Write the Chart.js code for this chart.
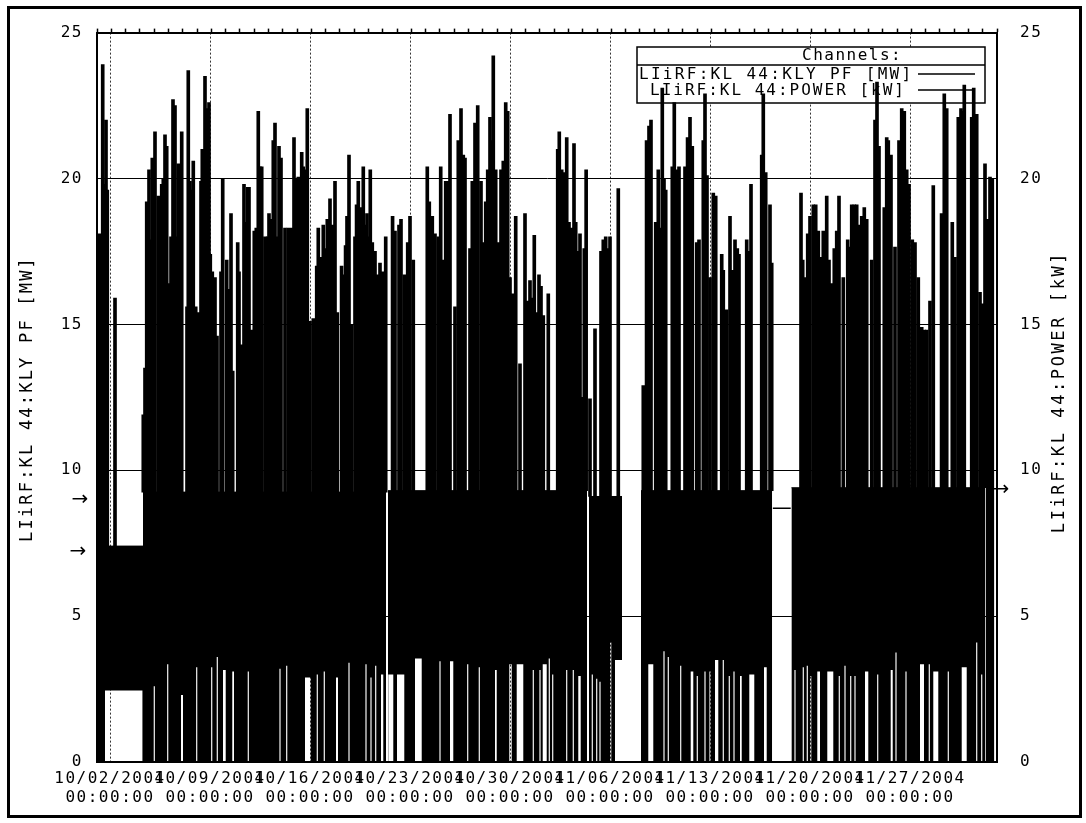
<!DOCTYPE html>
<html>
<head>
<meta charset="utf-8">
<script src="https://cdn.jsdelivr.net/npm/chart.js@4.4.1/dist/chart.umd.min.js"></script>
<style>
html, body { margin: 0; padding: 0; background: #fff; }
#wrap { position: absolute; left: 0; top: 0; width: 1086px; height: 823px; }
#frame { position: absolute; left: 7px; top: 6px; width: 1069px; height: 806px; border: 3px solid #000; pointer-events: none; }
</style>
</head>
<body>
<div id="wrap"><canvas id="chart1"></canvas></div>
<div id="frame"></div>
<script>
// x values are days since 10/02/2004 00:00:00
const xTickDays = [0, 7, 14, 21, 28, 35, 42, 49, 56];
const xTickDates = ["10/02/2004", "10/09/2004", "10/16/2004", "10/23/2004", "10/30/2004",
  "11/06/2004", "11/13/2004", "11/20/2004", "11/27/2004"];
const xTickTimes = ["00:00:00", "00:00:00", "00:00:00", "00:00:00", "00:00:00",
  "00:00:00", "00:00:00", "00:00:00", "00:00:00"];
const channelNames = ["LIiRF:KL 44:KLY PF [MW]", "LIiRF:KL 44:POWER [kW]"];

// runs of the klystron: start day, end day, level of the dense band
const runStart = [-0.91, 2.31, 19.46, 33.53, 37.17, 47.7];
const runEnd = [2.31, 19.32, 33.39, 35.84, 46.35, 61.25];
const runTop = [7.4, 9.25, 9.3, 9.1, 9.3, 9.4];

// stretches where the signal never dropped to zero (lowest level reached)
const noDipFrom = [-0.35,
  3.06, 4.00, 4.97, 6.03, 7.08, 7.47, 7.91, 8.56, 9.64, 11.86, 12.33, 13.65, 14.47, 14.96, 15.82, 16.69, 17.88, 18.23, 18.56, 18.97,
  19.48, 20.09, 21.35, 23.06, 23.80, 25.00, 25.81, 26.95, 27.95, 28.47, 29.59, 30.06, 30.29, 30.71, 30.95, 31.93, 32.39, 32.78,
  33.72, 34.03, 34.26, 35.01, 35.35,
  37.68, 38.74, 39.04, 39.91, 40.65, 41.07, 41.61, 41.96, 42.35, 42.89, 43.31, 43.64, 44.10, 44.75, 45.78,
  47.91, 48.49, 48.77, 49.01, 49.51, 50.21, 51.01, 51.41, 51.81, 52.11, 52.85, 53.70, 54.65, 54.98, 55.68, 56.70, 57.31, 57.63, 58.64, 59.62, 60.63, 60.98];
const noDipTo = [2.27,
  3.14, 4.08, 5.11, 6.11, 7.16, 7.55, 8.10, 8.68, 9.72, 11.94, 12.41, 14.05, 14.55, 15.04, 15.96, 16.77, 17.96, 18.31, 18.64, 19.13,
  19.83, 20.60, 21.82, 23.14, 24.03, 25.08, 25.89, 27.07, 28.12, 28.93, 29.67, 30.14, 30.57, 30.79, 31.03, 32.01, 32.47, 32.95,
  33.80, 34.11, 34.34, 35.09, 35.84,
  38.03, 38.82, 39.12, 39.99, 40.83, 41.15, 41.69, 42.04, 42.58, 42.97, 43.39, 43.72, 44.22, 45.10, 45.97,
  47.99, 48.57, 48.85, 49.09, 49.70, 50.63, 51.09, 51.49, 51.89, 52.19, 53.08, 53.78, 54.79, 55.06, 55.76, 56.98, 57.39, 57.98, 58.72, 59.97, 60.71, 61.06];
const noDipLevel = [2.45,
  2.6, 3.35, 2.3, 3.25, 3.25, 3.6, 3.15, 3.1, 3.1, 3.2, 3.3, 2.9, 3.0, 3.1, 2.9, 3.4, 3.35, 2.9, 3.3, 3.0,
  3.0, 3.0, 3.55, 3.45, 3.45, 3.35, 3.25, 3.15, 3.35, 3.35, 3.15, 3.15, 3.35, 3.55, 3.0, 3.15, 3.15, 2.95,
  3.0, 2.85, 2.75, 4.1, 3.5,
  3.35, 3.8, 3.6, 3.3, 3.1, 2.95, 3.1, 3.1, 3.5, 3.5, 2.95, 3.1, 2.95, 3.0, 3.25,
  3.15, 3.25, 3.3, 2.95, 3.1, 3.1, 2.95, 3.3, 2.95, 2.95, 3.1, 3.0, 3.15, 3.75, 3.1, 3.35, 3.35, 3.1, 3.1, 3.25, 4.1, 3.0];

// peak spikes of KLY PF [MW]
const spikeDay = [
  -0.75, -0.51, -0.42, -0.28, -0.19, 0.35, 2.33, 2.45, 2.57, 2.73, 2.87, 2.96, 3.06, 3.15, 3.38, 3.62, 3.73, 3.85, 3.97,
  4.08, 4.27, 4.41, 4.55, 4.67, 4.78, 4.90, 5.02, 5.39, 5.48, 5.60, 5.72, 5.83, 6.00, 6.18, 6.37, 6.46, 6.65, 6.79, 6.93,
  7.02, 7.16, 7.35, 7.49, 7.77, 7.89, 8.17, 8.28, 8.47, 8.59, 8.94, 9.03, 9.22, 9.38, 9.50, 9.64, 9.73, 9.92, 10.10, 10.24,
  10.38, 10.50, 10.62, 10.85, 11.04, 11.13, 11.25, 11.43, 11.55, 11.71, 11.83, 11.97, 12.25, 12.48, 12.72, 12.88, 13.07,
  13.18, 13.42, 13.53, 13.70, 13.81,
  14.00, 14.23, 14.47, 14.58, 14.77, 14.93, 15.05, 15.21, 15.40, 15.56, 15.75, 15.91, 16.21, 16.33, 16.49, 16.59, 16.73,
  16.91, 17.15, 17.26, 17.38, 17.54, 17.73, 17.85, 17.99, 18.13, 18.22, 18.36, 18.55, 18.73, 18.90, 19.06, 19.20, 19.30,
  19.78, 19.95, 20.23, 20.37, 20.60, 20.84, 21.00, 21.23,
  22.21, 22.35, 22.56, 22.75, 22.98, 23.15, 23.33, 23.50, 23.68, 23.80, 24.15, 24.38, 24.57, 24.73, 24.85, 25.20, 25.36,
  25.55, 25.74, 25.97, 26.13, 26.30, 26.44, 26.60, 26.72, 26.83, 27.00, 27.18, 27.37, 27.53, 27.70, 27.84,
  28.00, 28.16, 28.40, 28.70, 29.05, 29.24, 29.40, 29.56, 29.70, 29.87, 30.03, 30.17, 30.33, 30.68, 31.34, 31.45, 31.62,
  31.73, 31.85, 31.97, 32.13, 32.32, 32.48, 32.60, 32.78, 32.90, 33.06, 33.20, 33.33, 33.60, 33.95, 34.37, 34.53, 34.70,
  34.88, 35.00, 35.58,
  37.33, 37.56, 37.73, 37.87, 38.20, 38.38, 38.50, 38.66, 38.78, 38.90, 39.36, 39.50, 39.66, 39.83, 40.25, 40.43, 40.60,
  40.76, 41.07, 41.23, 41.53, 41.65, 41.79,
  42.00, 42.23, 42.40, 42.82, 42.93, 43.17, 43.40, 43.56, 43.75, 43.91, 44.03, 44.57, 44.68, 44.87, 45.62, 45.73, 45.90,
  46.20, 46.32, 48.37, 48.49, 48.65, 48.84,
  49.00, 49.23, 49.40, 49.58, 49.77, 49.93, 50.17, 50.33, 50.52, 50.70, 50.87, 51.03, 51.33, 51.64, 51.73, 51.92, 52.10,
  52.27, 52.45, 52.62, 52.80, 52.97, 53.32, 53.55, 53.69, 53.83, 54.20, 54.37, 54.48, 54.67, 54.95, 55.23, 55.42, 55.60,
  55.77, 55.93,
  56.16, 56.35, 56.58, 56.82, 57.00, 57.17, 57.40, 57.63, 58.21, 58.40, 58.57, 58.96, 59.15, 59.38, 59.57, 59.68, 59.80,
  60.32, 60.46, 60.67, 60.90, 61.06, 61.25, 61.43, 61.60, 61.76];
const spikePeak = [
  18.1, 23.9, 19.8, 22.0, 19.6, 15.9, 11.9, 13.5, 19.2, 20.3, 17.9, 20.7, 18.9, 21.6, 19.4, 19.8, 20.0, 21.5, 21.1,
  16.4, 18.0, 22.7, 22.5, 18.0, 20.5, 19.2, 21.6, 15.6, 23.7, 19.9, 19.6, 20.6, 15.6, 15.4, 19.9, 21.0, 23.5, 22.4, 22.6,
  17.4, 16.8, 16.6, 14.6, 16.8, 20.0, 17.2, 16.2, 18.8, 13.4, 17.8, 16.8, 14.3, 19.8, 18.5, 19.7, 19.7, 14.8, 18.2, 18.3,
  22.3, 20.4, 20.4, 18.0, 18.0, 18.8, 18.6, 21.3, 21.9, 18.0, 21.1, 20.7, 18.3, 18.3, 18.3, 21.4, 20.0,
  20.05, 20.9, 20.4, 20.3, 22.4,
  15.1, 15.2, 17.0, 18.3, 17.3, 18.4, 17.6, 18.6, 19.3, 18.4, 19.9, 15.4, 17.0, 16.7, 17.7, 18.7, 20.8,
  15.0, 18.0, 19.1, 19.9, 19.0, 20.4, 18.4, 18.8, 18.0, 20.3, 17.8, 17.5, 16.7, 17.1, 16.8, 16.6, 18.0,
  18.7, 18.2, 18.4, 18.6, 16.7, 17.8, 18.7, 17.2,
  20.4, 19.2, 18.7, 18.1, 18.0, 20.4, 17.2, 19.9, 19.9, 22.2, 15.6, 21.3, 22.4, 20.8, 20.7, 17.6, 19.9,
  21.9, 22.5, 19.9, 17.8, 19.2, 20.3, 22.1, 21.3, 24.2, 20.3, 17.8, 20.3, 20.6, 22.6, 22.3,
  16.6, 16.05, 18.7, 13.65, 18.8, 15.8, 16.5, 15.9, 18.05, 15.4, 16.7, 16.3, 15.3, 16.05, 21.0, 21.6, 20.3,
  20.2, 18.8, 21.4, 18.5, 18.3, 21.2, 18.5, 17.5, 18.1, 12.5, 17.6, 20.3, 12.45, 14.85, 17.5, 17.9, 18.0,
  17.6, 18.0, 19.65,
  12.9, 21.3, 21.8, 22.0, 18.5, 20.3, 18.3, 23.1, 20.0, 19.6, 20.4, 22.6, 20.3, 20.4, 20.4, 21.4, 22.1,
  21.1, 17.8, 17.9, 21.3, 22.9, 20.1,
  16.6, 19.5, 19.4, 17.4, 16.85, 15.5, 18.7, 16.85, 17.9, 17.6, 17.4, 17.9, 17.5, 19.8, 20.8, 22.9, 20.2,
  19.1, 17.1, 19.5, 17.2, 16.6, 18.1,
  18.7, 19.1, 19.1, 18.2, 17.3, 18.2, 19.4, 17.2, 16.4, 17.6, 18.2, 19.4, 16.6, 17.9, 17.65, 19.1, 19.1,
  19.1, 18.4, 18.7, 19.0, 18.6, 17.2, 22.0, 23.3, 21.1, 19.0, 21.4, 21.3, 20.8, 17.65, 21.3, 22.4, 22.3,
  20.3, 19.8,
  17.9, 17.8, 16.6, 14.9, 14.8, 14.8, 15.8, 19.76, 18.8, 22.9, 22.4, 18.5, 17.3, 22.1, 22.4, 22.3, 23.2,
  22.1, 23.1, 22.2, 16.1, 15.7, 20.5, 18.6, 20.05, 20.0];

// POWER [kW] trace, visible only where the band is off
const powerDay = [46.4, 47.65];
const powerVal = [8.7, 8.7];

const MONO = "'DejaVu Sans Mono', monospace";
Chart.defaults.font.family = MONO;
Chart.defaults.color = "#000";

function runOf(d) {
  for (let i = 0; i < runStart.length; i++) {
    if (d >= runStart[i] && d <= runEnd[i]) return i;
  }
  return -1;
}

const datasets = [];
runStart.forEach((s, i) => {
  const e = runEnd[i];
  const low = [{ x: s, y: 0 }];
  noDipFrom.forEach((a, k) => {
    if (a >= s && a < e) {
      low.push({ x: a, y: 0 }, { x: a, y: noDipLevel[k] }, { x: noDipTo[k], y: noDipLevel[k] }, { x: noDipTo[k], y: 0 });
    }
  });
  low.push({ x: e, y: 0 });
  datasets.push({ type: "line", data: low, fill: "+1", backgroundColor: "#000",
    borderColor: "rgba(0,0,0,0)", borderWidth: 0, pointRadius: 0, order: 2 });
  datasets.push({ type: "line", data: [{ x: s, y: runTop[i] }, { x: e, y: runTop[i] }], fill: false,
    borderColor: "#000", borderWidth: 1, pointRadius: 0, order: 2 });
});
datasets.push({ type: "line", label: channelNames[1],
  data: powerDay.map((d, i) => ({ x: d, y: powerVal[i] })),
  borderColor: "#000", borderWidth: 1.5, pointRadius: 0, fill: false, order: 1 });
datasets.push({ type: "bar", label: channelNames[0],
  data: spikeDay.map((d, i) => {
    const r = runOf(d);
    return { x: d, y: [r < 0 ? 0 : runTop[r], spikePeak[i]] };
  }),
  backgroundColor: "#000", barThickness: 3, order: 0 });

const LS = "1.5px";
const paper = {
  id: "paper",
  beforeUpdate(c) { c.ctx.letterSpacing = LS; },
  beforeDraw(c) { c.ctx.letterSpacing = LS; },
  beforeDatasetsDraw(c) {
    // channel box sits under the traces
    const ctx = c.ctx;
    ctx.save();
    ctx.fillStyle = "#fff";
    ctx.fillRect(637, 47, 348, 56);
    ctx.strokeStyle = "#000";
    ctx.lineWidth = 1.5;
    ctx.strokeRect(637, 47, 348, 56);
    ctx.beginPath();
    ctx.moveTo(637, 65); ctx.lineTo(985, 65);
    ctx.moveTo(918, 74); ctx.lineTo(975, 74);
    ctx.moveTo(918, 90); ctx.lineTo(975, 90);
    ctx.stroke();
    ctx.fillStyle = "#000";
    ctx.font = "16px " + MONO;
    ctx.textBaseline = "middle";
    ctx.textAlign = "left";
    ctx.letterSpacing = "1.5px";
    ctx.fillText("Channels:", 802, 56);
    ctx.letterSpacing = "2.3px";
    ctx.fillText(channelNames[0], 639, 75);
    ctx.letterSpacing = "2px";
    ctx.fillText(channelNames[1], 650, 91);
    ctx.restore();
  },
  afterDraw(c) {
    const ctx = c.ctx;
    ctx.save();
    ctx.fillStyle = "#000";
    ctx.textAlign = "center";
    ctx.textBaseline = "middle";
    ctx.font = "17px " + MONO;
    ctx.save();
    ctx.translate(28, 399);
    ctx.rotate(-Math.PI / 2);
    ctx.letterSpacing = "2.2px";
    ctx.fillText(channelNames[0], 0, 0);
    ctx.restore();
    ctx.save();
    ctx.translate(1060, 392);
    ctx.rotate(-Math.PI / 2);
    ctx.letterSpacing = "2.6px";
    ctx.fillText(channelNames[1], 0, 0);
    ctx.restore();
    // pen marks on the printout
    ctx.letterSpacing = "0px";
    ctx.font = "20px 'DejaVu Sans'";
    ctx.fillText("\u2192", 80, 500);
    ctx.fillText("\u2192", 78, 552);
    ctx.fillText("\u2192", 1001, 490);
    ctx.restore();
  }
};

const ctx = document.getElementById("chart1").getContext("2d");
const chart1 = new Chart(ctx, {
  type: "line",
  data: { datasets: datasets },
  plugins: [paper],
  options: {
    responsive: true,
    maintainAspectRatio: false,
    animation: false,
    events: [],
    layout: { padding: { top: 26, left: 0, right: 0, bottom: 0 } },
    plugins: { legend: { display: false }, tooltip: { enabled: false } },
    scales: {
      x: {
        type: "linear", position: "bottom", min: -0.91, max: 62.09, offset: false,
        afterBuildTicks: (s) => { s.ticks = xTickDays.map((v) => ({ value: v })); },
        afterFit: (s) => { s.height = 61; },
        ticks: {
          callback: (v, i) => [xTickDates[i], xTickTimes[i]],
          maxRotation: 0, minRotation: 0, autoSkip: false, padding: 8,
          font: { size: 16, lineHeight: 1.15 }, color: "#000"
        },
        grid: { offset: false, color: "#333", lineWidth: 1, drawTicks: false },
        border: { color: "#000", width: 2, dash: [2, 2] }
      },
      x2: {
        type: "linear", position: "top", min: -0.91, max: 62.09, offset: false,
        afterFit: (s) => { s.height = 5; },
        ticks: { display: false, stepSize: 1, includeBounds: false },
        grid: { offset: false, drawOnChartArea: false, drawTicks: true, tickLength: 4, tickColor: "#000", tickWidth: 1.5 },
        border: { color: "#000", width: 2 }
      },
      y: {
        type: "linear", position: "left", min: 0, max: 25,
        afterFit: (s) => { s.width = 97; },
        ticks: { stepSize: 5, padding: 14, font: { size: 16 }, color: "#000" },
        grid: { color: "#000", lineWidth: 1, drawTicks: false },
        border: { color: "#000", width: 2 }
      },
      y2: {
        type: "linear", position: "right", min: 0, max: 25,
        afterFit: (s) => { s.width = 89; },
        ticks: { stepSize: 5, padding: 23, font: { size: 16 }, color: "#000" },
        grid: { drawOnChartArea: false, drawTicks: false },
        border: { color: "#000", width: 2 }
      }
    }
  }
});
</script>
</body>
</html>
